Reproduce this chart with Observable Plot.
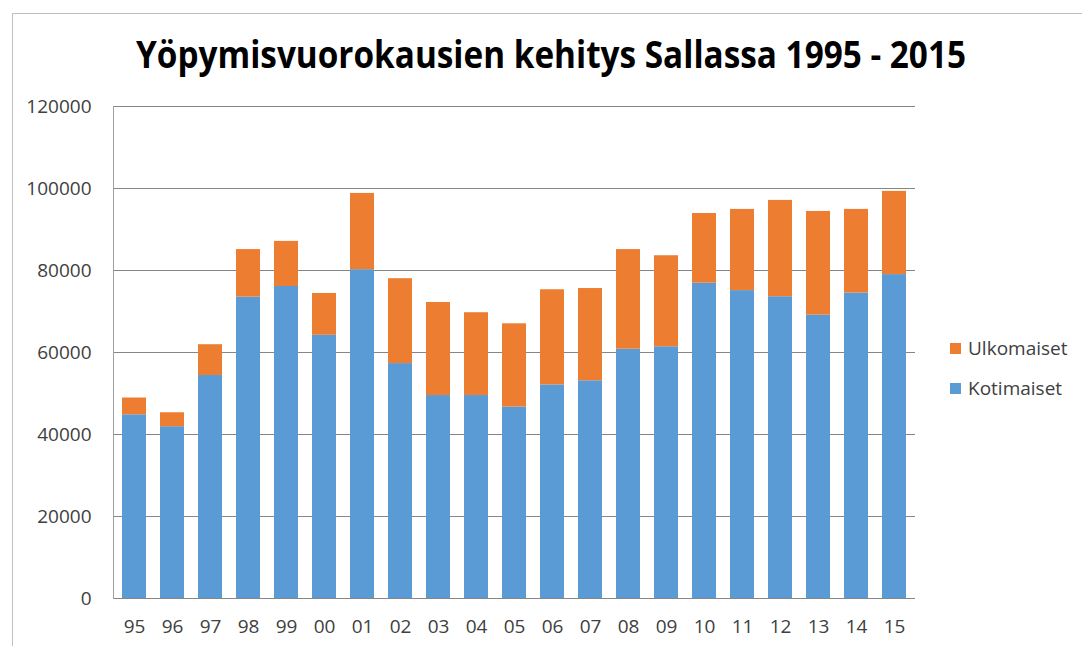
<!DOCTYPE html>
<html>
<head>
<meta charset="utf-8">
<script src="https://cdn.jsdelivr.net/npm/d3@7"></script>
<script src="https://cdn.jsdelivr.net/npm/@observablehq/plot@0.6"></script>
<style>
  html, body { margin: 0; padding: 0; background: #ffffff; }
  #wrap { position: relative; width: 1082px; height: 646px; overflow: hidden; background: #fff; font-family: "Open Sans", sans-serif; }
  #border { position: absolute; left: 12px; top: 13px; width: 1200px; height: 800px; border-left: 1px solid #bfbfbf; border-top: 1px solid #bfbfbf; }
  #title { position: absolute; left: 0; top: 0; }
  #chart { position: absolute; left: 0; top: 90px; }
  .leg { position: absolute; left: 950px; display: flex; align-items: center; font-size: 19px; color: #404040; }
  .leg span.sw { display: inline-block; width: 11px; height: 11px; margin-right: 7px; }
</style>
</head>
<body>
<div id="wrap">
  <div id="border"></div>
  <svg id="title" width="1082" height="90"></svg>
  <div id="chart"></div>
  <div id="legend"></div>
</div>
<script>
const titleText = "Yöpymisvuorokausien kehitys Sallassa 1995 - 2015";
const years = ["95","96","97","98","99","00","01","02","03","04","05","06","07","08","09","10","11","12","13","14","15"];
const kotimaiset = [44800, 41900, 54400, 73500, 76100, 64200, 80200, 57300, 49500, 49500, 46700, 52100, 53100, 60800, 61400, 76900, 75100, 73600, 69100, 74500, 79000];
const ulkomaiset = [4100, 3400, 7500, 11600, 11000, 10200, 18600, 20700, 22700, 20200, 20300, 23200, 22500, 24300, 22200, 17000, 19800, 23500, 25300, 20400, 20300];
const seriesNames = ["Kotimaiset", "Ulkomaiset"];
const seriesColors = ["#5B9BD5", "#ED7D31"];
const yTicks = [0, 20000, 40000, 60000, 80000, 100000, 120000];

const data = years.flatMap((y, i) => [
  {year: y, series: seriesNames[0], value: kotimaiset[i]},
  {year: y, series: seriesNames[1], value: ulkomaiset[i]}
]);

// Title
const tsvg = d3.select("#title");
tsvg.append("text")
  .attr("x", 551).attr("y", 68)
  .attr("text-anchor", "middle")
  .attr("font-family", "Open Sans, sans-serif")
  .attr("font-weight", "bold")
  .attr("font-size", 37)
  .attr("textLength", 830)
  .attr("lengthAdjust", "spacingAndGlyphs")
  .attr("fill", "#000")
  .text(titleText);

const chart = Plot.plot({
  width: 1082,
  height: 556,
  marginTop: 16,
  marginBottom: 48,
  marginLeft: 113,
  marginRight: 167,
  style: {fontFamily: "Open Sans, sans-serif", background: "transparent", color: "#404040"},
  x: {domain: years, paddingInner: 0.37, paddingOuter: 0.2, label: null},
  y: {domain: [0, 120000], label: null},
  color: {domain: seriesNames, range: seriesColors},
  marks: [
    Plot.gridY(yTicks, {stroke: "#868686", strokeOpacity: 1, strokeWidth: 1}),
    Plot.barY(data, {x: "year", y: "value", fill: "series", order: seriesNames}),
    Plot.frame({anchor: "left", stroke: "#a0a0a0"}),
    Plot.axisY(yTicks, {tickSize: 0, tickPadding: 22, fontSize: 19, fill: "#404040", tickFormat: d => String(d), label: null}),
    Plot.axisX({tickSize: 0, tickPadding: 21, fontSize: 19, fill: "#404040", label: null})
  ]
});
document.getElementById("chart").appendChild(chart);

// Legend (top: Ulkomaiset, bottom: Kotimaiset)
const legend = document.getElementById("legend");
const legendItems = [
  {name: seriesNames[1], color: seriesColors[1], top: 335},
  {name: seriesNames[0], color: seriesColors[0], top: 375}
];
for (const it of legendItems) {
  const d = document.createElement("div");
  d.className = "leg";
  d.style.top = it.top + "px";
  d.innerHTML = `<span class="sw" style="background:${it.color}"></span><span>${it.name}</span>`;
  legend.appendChild(d);
}
</script>
</body>
</html>
